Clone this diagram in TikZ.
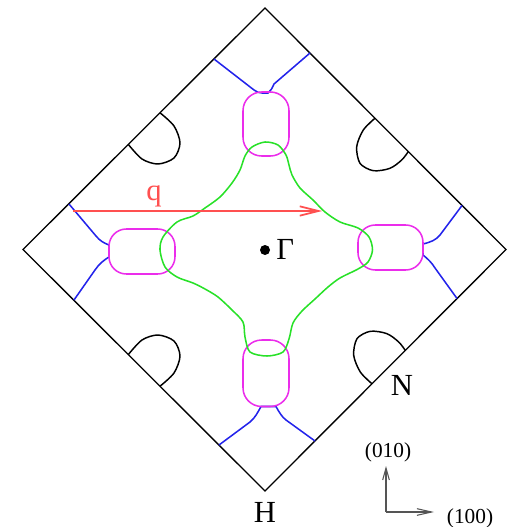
\documentclass[tikz,border=0pt]{standalone}
\usepackage{fontspec}
\setmainfont{Liberation Serif}
\usetikzlibrary{arrows.meta}
\definecolor{fsgreen}{RGB}{40,225,40}
\definecolor{fspink}{RGB}{235,45,235}
\definecolor{fsblue}{RGB}{35,35,235}
\definecolor{qred}{RGB}{255,80,80}
\definecolor{axgray}{RGB}{85,85,85}
\begin{document}
\begin{tikzpicture}[x=0.75pt,y=0.75pt,yscale=-1,xscale=1,
	zone/.style={line width=1pt, line join=miter},
	pocket/.style={line width=1.1pt},
	sheet/.style={line width=1.15pt},
	bigtext/.style={inner sep=0.75pt, font=\fontsize{23}{26}\selectfont},
	axtext/.style={inner sep=0.75pt, font=\fontsize{16}{18}\selectfont}]
\useasboundingbox (0,0) rectangle (508,527);
%Zone boundary
\coordinate (T) at (265,8);
\coordinate (R) at (506,249.5);
\coordinate (B) at (265,491);
\coordinate (L) at (23,249.5);
\draw [zone] (T) -- (R) -- (B) -- (L) -- cycle ;
%Black pockets
\draw [pocket] plot [smooth] coordinates {(160,112.8) (174,126) (180,143) (174,158) (158,164) (142,159) (128.3,144.4)} ;
\draw [pocket] plot [smooth] coordinates {(375,118.2) (363.3,130) (356.7,146.7) (360,163.3) (373.3,170.7) (390,168.3) (401.7,160) (408.3,151.6)} ;
\draw [pocket] plot [smooth] coordinates {(160,386.2) (174,373) (180,356) (174,341) (158,335) (142,340) (128.3,354.6)} ;
\draw [pocket] plot [smooth] coordinates {(372,383.8) (360.3,372) (353.7,355.3) (357,338.7) (370.3,331.3) (387,333.7) (398.7,342) (405.3,350.4)} ;
%Blue necks
\draw [sheet, color=fsblue] (214,59) -- (254,90) .. controls (257,92) and (259,93) .. (262,93) -- (268,93) .. controls (271,91) and (272,88) .. (274,84) -- (310,53) ;
\draw [sheet, color=fsblue] (69,204) -- (96,236) .. controls (100,241) and (104,243) .. (109,245) -- (109,257) .. controls (104,260) and (99,264) .. (95,270) -- (74,300) ;
\draw [sheet, color=fsblue] (462,205.5) -- (440,235) .. controls (436,240) and (431,242) .. (423,244) -- (423,255) .. controls (428,259) and (432,263) .. (435,268) -- (457,298.5) ;
\draw [sheet, color=fsblue] (219,445) -- (250,422) .. controls (255,418) and (258,412) .. (261,406.5) -- (276,406.5) .. controls (279,412) and (282,417) .. (286,420) -- (315,441) ;
%Pink pockets
\draw [sheet, color=fspink, rounded corners=14pt] (243,92) rectangle (289,156) ;
\draw [sheet, color=fspink, rounded corners=13pt] (109,229) rectangle (175,274) ;
\draw [sheet, color=fspink, rounded corners=13pt] (358,225) rectangle (423,270) ;
\draw [sheet, color=fspink, rounded corners=14pt] (243,340) rectangle (289,406.5) ;
%Green sheet
\draw [sheet, color=fsgreen] plot [smooth cycle] coordinates {(265,142) (278,145) (286,155) (289,165) (292,175) (300,188) (313,200) (325,212) (340,222) (358,228) (369,237) (372.5,250) (368,262) (358,269) (340,278) (328,287) (315,299) (302,311) (293,323) (289,339) (283,352) (267,356) (250,352) (245,337) (243,322) (232,310) (218,297) (205,289) (193,283) (177,277) (165,267) (160,250) (163,237) (177,222) (193,216) (205,208) (220,197) (232,183) (240,170) (245,156) (252,147)} ;
%Nesting vector
\coordinate (qs) at (73,211);
\coordinate (qe) at (322,211);
\draw [color=qred, line width=1.3pt, -{Straight Barb[length=14pt,width=7pt]}] (qs) -- (qe) ;
\draw (154,196) node [bigtext, text=qred] (qlab) {q};
%Gamma point
\draw (265,250) node [circle, fill=black, inner sep=0pt, minimum size=7.5pt] (gdot) {};
\draw (275,249) node [bigtext, anchor=west] (glab) {Γ};
\draw (265,512) node [bigtext] (hlab) {H};
\draw (402,385) node [bigtext] (nlab) {N};
%Axes
\coordinate (ax0) at (386,512);
\coordinate (ax1) at (386,466);
\coordinate (ax2) at (434,512);
\draw [color=axgray, line width=0.8pt, -{Straight Barb[length=9pt,width=5pt]}] (ax0) -- (ax1) ;
\draw [color=axgray, line width=0.8pt, -{Straight Barb[length=11pt,width=5pt]}] (ax0) -- (ax2) ;
\draw (388,452) node [axtext] (ylab) {(010)};
\draw (470,518) node [axtext] (xlab) {(100)};
\end{tikzpicture}
\end{document}
